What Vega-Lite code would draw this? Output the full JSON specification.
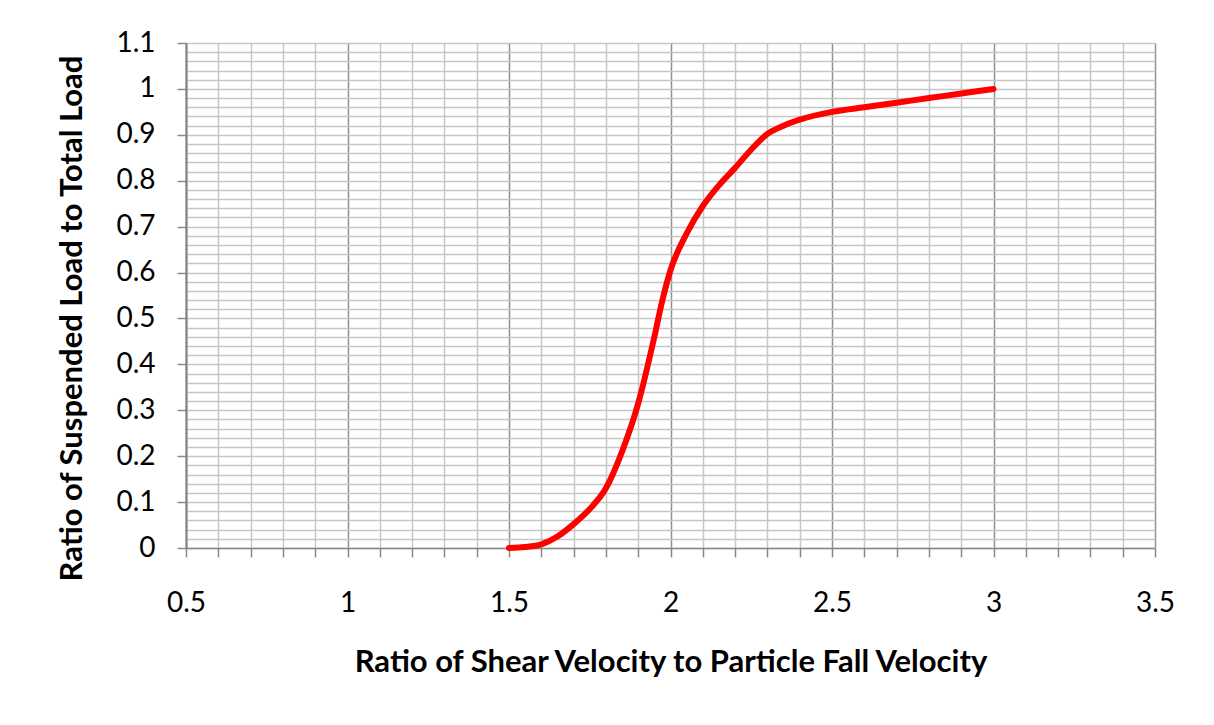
{
  "$schema": "https://vega.github.io/schema/vega-lite/v6.json",
  "width": 969,
  "height": 505,
  "autosize": {"type": "none"},
  "padding": {"left": 186, "top": 43, "right": 59, "bottom": 177},
  "background": "white",
  "config": {
    "view": {"stroke": null},
    "font": "Lato"
  },
  "data": {
    "values": [
      {"shear_ratio": 1.5, "suspended_ratio": 0.0},
      {"shear_ratio": 1.55, "suspended_ratio": 0.002},
      {"shear_ratio": 1.6, "suspended_ratio": 0.008},
      {"shear_ratio": 1.65, "suspended_ratio": 0.025},
      {"shear_ratio": 1.7, "suspended_ratio": 0.052},
      {"shear_ratio": 1.75, "suspended_ratio": 0.085},
      {"shear_ratio": 1.8, "suspended_ratio": 0.13},
      {"shear_ratio": 1.85, "suspended_ratio": 0.21},
      {"shear_ratio": 1.9, "suspended_ratio": 0.315},
      {"shear_ratio": 1.95, "suspended_ratio": 0.46},
      {"shear_ratio": 1.975, "suspended_ratio": 0.54},
      {"shear_ratio": 2.0, "suspended_ratio": 0.605},
      {"shear_ratio": 2.05, "suspended_ratio": 0.685},
      {"shear_ratio": 2.1, "suspended_ratio": 0.745},
      {"shear_ratio": 2.15, "suspended_ratio": 0.79},
      {"shear_ratio": 2.2, "suspended_ratio": 0.828},
      {"shear_ratio": 2.25, "suspended_ratio": 0.868},
      {"shear_ratio": 2.3, "suspended_ratio": 0.902},
      {"shear_ratio": 2.35, "suspended_ratio": 0.92},
      {"shear_ratio": 2.4, "suspended_ratio": 0.933},
      {"shear_ratio": 2.5, "suspended_ratio": 0.95},
      {"shear_ratio": 2.6, "suspended_ratio": 0.96},
      {"shear_ratio": 2.7, "suspended_ratio": 0.97},
      {"shear_ratio": 2.8, "suspended_ratio": 0.98},
      {"shear_ratio": 2.9, "suspended_ratio": 0.99},
      {"shear_ratio": 3.0, "suspended_ratio": 1.0}
    ]
  },
  "mark": {"type": "line", "color": "#ff0000", "strokeWidth": 6, "interpolate": "monotone", "strokeCap": "round"},
  "encoding": {
    "x": {
      "field": "shear_ratio",
      "type": "quantitative",
      "scale": {"domain": [0.5, 3.5], "nice": false, "zero": false},
      "axis": {
        "title": "Ratio of Shear Velocity to Particle Fall Velocity",
        "titleFont": "Lato",
        "titleFontSize": 31,
        "titleFontWeight": "bold",
        "titleColor": "#000000",
        "titlePadding": 30,
        "values": [0.5, 0.6, 0.7, 0.8, 0.9, 1, 1.1, 1.2, 1.3, 1.4, 1.5, 1.6, 1.7, 1.8, 1.9, 2, 2.1, 2.2, 2.3, 2.4, 2.5, 2.6, 2.7, 2.8, 2.9, 3, 3.1, 3.2, 3.3, 3.4, 3.5],
        "labelExpr": "abs(datum.value*2 - round(datum.value*2)) < 0.001 ? '' + datum.value : ''",
        "labelFont": "Lato",
        "labelFontSize": 28,
        "labelColor": "#000000",
        "labelPadding": 32,
        "labelFlush": false,
        "labelOverlap": false,
        "tickSize": 9,
        "tickColor": "#888888",
        "tickWidth": 1.5,
        "domainColor": "#888888",
        "domainWidth": 1.5,
        "grid": true,
        "gridColor": {"condition": {"test": "abs(datum.value*2 - round(datum.value*2)) < 0.001", "value": "#8f8f8f"}, "value": "#c6c6c6"},
        "gridWidth": 1.5
      }
    },
    "y": {
      "field": "suspended_ratio",
      "type": "quantitative",
      "scale": {"domain": [0, 1.1], "nice": false},
      "axis": {
        "title": "Ratio of Suspended Load to Total Load",
        "titleFont": "Lato",
        "titleFontSize": 31,
        "titleFontWeight": "bold",
        "titleColor": "#000000",
        "titlePadding": 27,
        "titleY": 275,
        "values": [0, 0.02, 0.04, 0.06, 0.08, 0.1, 0.12, 0.14, 0.16, 0.18, 0.2, 0.22, 0.24, 0.26, 0.28, 0.3, 0.32, 0.34, 0.36, 0.38, 0.4, 0.42, 0.44, 0.46, 0.48, 0.5, 0.52, 0.54, 0.56, 0.58, 0.6, 0.62, 0.64, 0.66, 0.68, 0.7, 0.72, 0.74, 0.76, 0.78, 0.8, 0.82, 0.84, 0.86, 0.88, 0.9, 0.92, 0.94, 0.96, 0.98, 1, 1.02, 1.04, 1.06, 1.08, 1.1],
        "labelExpr": "abs(datum.value*10 - round(datum.value*10)) < 0.001 ? '' + datum.value : ''",
        "labelFont": "Lato",
        "labelFontSize": 28,
        "labelColor": "#000000",
        "labelPadding": 22,
        "labelFlush": false,
        "labelOverlap": false,
        "tickSize": 9,
        "tickColor": "#888888",
        "tickWidth": 1.5,
        "tickOpacity": {"condition": {"test": "abs(datum.value*10 - round(datum.value*10)) < 0.001", "value": 1}, "value": 0},
        "domainColor": "#808080",
        "domainWidth": 2,
        "grid": true,
        "gridColor": "#c6c6c6",
        "gridWidth": 1.5
      }
    }
  }
}
